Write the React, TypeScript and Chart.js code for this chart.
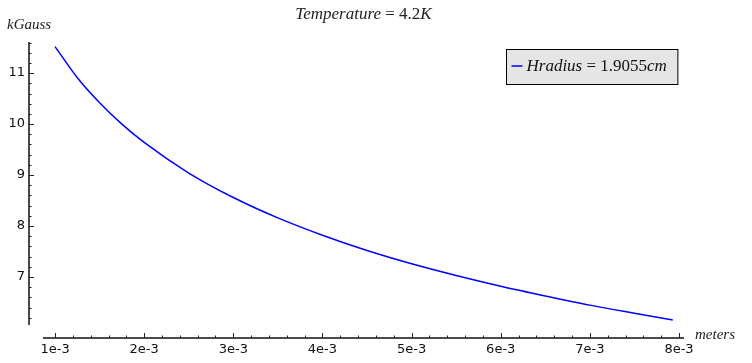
import React, { useEffect, useRef } from 'react';
import { Chart, registerables } from 'chart.js';

Chart.register(...registerables);

// ---- data ----
const TITLE_TEXT = 'Temperature=4.2K';
const X_AXIS_LABEL = 'meters';
const Y_AXIS_LABEL = 'kGauss';
const SERIES_LABEL = 'Hradius=1.9055cm';

const X_METERS = [
  0.001, 0.00125, 0.0015, 0.00175, 0.002, 0.0025, 0.003, 0.0035, 0.004,
  0.0045, 0.005, 0.0055, 0.006, 0.0065, 0.007, 0.0075, 0.00793,
];
const B_KGAUSS = [
  11.52, 10.91, 10.42, 10.0, 9.64, 9.04, 8.56, 8.16, 7.82,
  7.52, 7.26, 7.03, 6.82, 6.63, 6.45, 6.29, 6.157,
];

const X_MIN = 0.000865;
const X_MAX = 0.008056;
const Y_MIN = 6.06;
const Y_MAX = 11.61;
const X_MAJOR_STEP = 0.001;
const Y_MAJOR_STEP = 1;
const MINOR_DIVS = 5;

// ---- helpers ----
type Run = { t: string; it: boolean; pad: boolean };
function tokenize(s: string): Run[] {
  const out: Run[] = [];
  const re = /([A-Za-z]+)|([0-9.]+)|(=)/g;
  let m: RegExpExecArray | null;
  while ((m = re.exec(s))) {
    if (m[1]) out.push({ t: m[1], it: true, pad: false });
    else if (m[2]) out.push({ t: m[2], it: false, pad: false });
    else out.push({ t: '=', it: false, pad: true });
  }
  return out;
}

const SERIF = '"Liberation Serif", "DejaVu Serif", serif';

function mathWidth(ctx: CanvasRenderingContext2D, s: string, size: number) {
  let w = 0;
  for (const r of tokenize(s)) {
    ctx.font = `${r.it ? 'italic ' : ''}${size}px ${SERIF}`;
    w += ctx.measureText(r.t).width + (r.pad ? size * 0.5 : 0);
  }
  return w;
}

function drawMath(
  ctx: CanvasRenderingContext2D,
  s: string,
  x: number,
  y: number,
  size: number,
  align: 'left' | 'center'
) {
  let cx = align === 'center' ? x - mathWidth(ctx, s, size) / 2 : x;
  ctx.textAlign = 'left';
  ctx.textBaseline = 'middle';
  for (const r of tokenize(s)) {
    ctx.font = `${r.it ? 'italic ' : ''}${size}px ${SERIF}`;
    if (r.pad) cx += size * 0.25;
    ctx.fillText(r.t, cx, y);
    cx += ctx.measureText(r.t).width;
    if (r.pad) cx += size * 0.25;
  }
}

const decorPlugin = {
  id: 'decor',
  afterDraw(chart: any) {
    const { ctx, chartArea: a, scales } = chart;
    const xs = scales.x;
    const ys = scales.y;
    const axX = a.left - 14;
    const axY = a.bottom + 13;
    ctx.save();

    // axis lines
    ctx.strokeStyle = '#111';
    ctx.lineWidth = 1.5;
    ctx.beginPath();
    ctx.moveTo(axX, a.top);
    ctx.lineTo(axX, a.bottom);
    ctx.moveTo(a.left, axY);
    ctx.lineTo(a.right, axY);
    ctx.stroke();

    // ticks
    ctx.lineWidth = 1;
    ctx.strokeStyle = '#222';
    ctx.beginPath();
    const yStep = Y_MAJOR_STEP / MINOR_DIVS;
    for (let k = Math.ceil(ys.min / yStep - 1e-9); k * yStep <= ys.max + 1e-9; k++) {
      const p = Math.round(ys.getPixelForValue(k * yStep)) + 0.5;
      const len = k % MINOR_DIVS === 0 ? 5 : 2.5;
      ctx.moveTo(axX, p);
      ctx.lineTo(axX + len, p);
    }
    const xStep = X_MAJOR_STEP / MINOR_DIVS;
    for (let k = Math.ceil(xs.min / xStep - 1e-9); k * xStep <= xs.max + 1e-12; k++) {
      const p = Math.round(xs.getPixelForValue(k * xStep)) + 0.5;
      const len = k % MINOR_DIVS === 0 ? 5 : 2.5;
      ctx.moveTo(p, axY);
      ctx.lineTo(p, axY - len);
    }
    ctx.stroke();

    // texts
    ctx.fillStyle = '#222';
    drawMath(ctx, TITLE_TEXT, (a.left + a.right) / 2, 15, 17, 'center');
    drawMath(ctx, Y_AXIS_LABEL, 7, 25, 15, 'left');
    drawMath(ctx, X_AXIS_LABEL, a.right + 11, axY - 3, 15, 'left');

    // legend
    const ds = chart.data.datasets[0];
    const tw = mathWidth(ctx, ds.label, 17);
    const bw = tw + 31;
    const bh = 35;
    const bx = Math.round(a.right - 7 - bw) + 0.5;
    const by = a.top + 7.5;
    ctx.fillStyle = '#e5e5e5';
    ctx.fillRect(bx, by, bw, bh);
    ctx.strokeStyle = '#000';
    ctx.lineWidth = 1;
    ctx.strokeRect(bx, by, bw, bh);
    ctx.strokeStyle = ds.borderColor;
    ctx.lineWidth = 1.5;
    ctx.beginPath();
    ctx.moveTo(bx + 5, by + bh / 2 - 1);
    ctx.lineTo(bx + 16, by + bh / 2 - 1);
    ctx.stroke();
    ctx.fillStyle = '#111';
    drawMath(ctx, ds.label, bx + 20, by + bh / 2, 17, 'left');

    ctx.restore();
  },
};

export default function App() {
  const ref = useRef<HTMLCanvasElement | null>(null);

  useEffect(() => {
    const canvas = ref.current;
    if (!canvas) return;
    const points = X_METERS.map((x, i) => ({ x, y: B_KGAUSS[i] }));
    const chart = new Chart(canvas, {
      type: 'line',
      data: {
        datasets: [
          {
            label: SERIES_LABEL,
            data: points,
            borderColor: '#0000ff',
            backgroundColor: '#0000ff',
            borderWidth: 1.5,
            pointRadius: 0,
            cubicInterpolationMode: 'monotone',
            fill: false,
          },
        ],
      },
      options: {
        responsive: false,
        animation: false,
        devicePixelRatio: 1,
        layout: { padding: { left: 0, top: 42, right: 68, bottom: 0 } },
        plugins: {
          legend: { display: false },
          title: { display: false },
          tooltip: { enabled: false },
        },
        scales: {
          x: {
            type: 'linear',
            min: X_MIN,
            max: X_MAX,
            grid: { display: false, drawTicks: false },
            border: { display: false },
            afterFit: (s: any) => {
              s.height = 38;
            },
            ticks: {
              stepSize: X_MAJOR_STEP,
              includeBounds: false,
              padding: 17,
              color: '#111',
              font: { family: '"DejaVu Sans", sans-serif', size: 13 },
              callback: (v: any) => `${Math.round(Number(v) * 1000)}e-3`,
            },
          },
          y: {
            type: 'linear',
            min: Y_MIN,
            max: Y_MAX,
            grid: { display: false, drawTicks: false },
            border: { display: false },
            afterFit: (s: any) => {
              s.width = 43;
            },
            ticks: {
              stepSize: Y_MAJOR_STEP,
              includeBounds: false,
              padding: 18,
              color: '#111',
              font: { family: '"DejaVu Sans", sans-serif', size: 13 },
              callback: (v: any) => `${Math.round(Number(v))}`,
            },
          },
        },
      },
      plugins: [decorPlugin],
    } as any);
    return () => chart.destroy();
  }, []);

  return (
    <div style={{ position: 'fixed', left: 0, top: 0, width: 752, height: 363, background: '#fff' }}>
      <canvas ref={ref} width={752} height={363} style={{ width: 752, height: 363, display: 'block' }} />
    </div>
  );
}
